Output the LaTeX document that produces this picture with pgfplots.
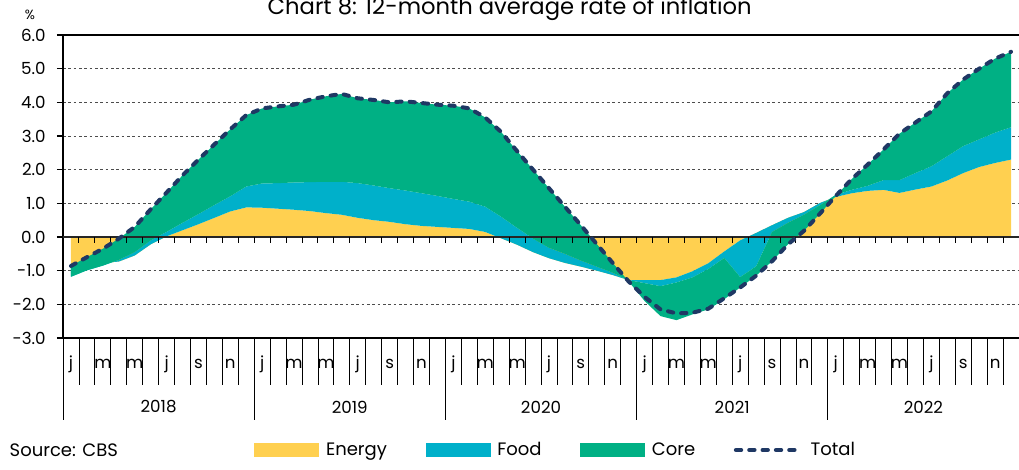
\documentclass[border=0pt]{standalone}
\usepackage{fontspec}
\setmainfont{Poppins}
\usepackage{pgfplots}
\pgfplotsset{compat=1.18}
\usepackage{pgfplotstable}
\definecolor{cEn}{RGB}{255,208,80}
\definecolor{cFo}{RGB}{0,176,202}
\definecolor{cCo}{RGB}{0,176,132}
\definecolor{cTo}{RGB}{31,56,100}
\newcommand\tf{\fontsize{12.5}{14}\selectfont}
\newcommand\lf{\fontsize{13.5}{15}\selectfont}
\pgfplotstableread{
x E F C T
0.5 -0.82 -0.36 0.32 -0.86
1.5 -0.80 -0.19 0.39 -0.60
2.5 -0.77 -0.08 0.50 -0.35
3.5 -0.73 0.05 0.63 -0.05
4.5 -0.55 0.10 0.75 0.30
5.5 -0.22 0.12 0.92 0.82
6.5 0.02 0.13 1.17 1.32
7.5 0.20 0.22 1.41 1.83
8.5 0.38 0.30 1.62 2.30
9.5 0.57 0.38 1.80 2.75
10.5 0.76 0.45 1.99 3.20
11.5 0.88 0.62 2.12 3.62
12.5 0.87 0.72 2.23 3.82
13.5 0.84 0.76 2.28 3.88
14.5 0.81 0.81 2.31 3.93
15.5 0.77 0.86 2.45 4.08
16.5 0.71 0.93 2.54 4.18
17.5 0.66 0.98 2.61 4.25
18.5 0.57 1.03 2.52 4.12
19.5 0.50 1.03 2.54 4.07
20.5 0.45 1.00 2.55 4.00
21.5 0.38 1.00 2.65 4.03
22.5 0.33 0.97 2.68 3.98
23.5 0.30 0.92 2.71 3.93
24.5 0.27 0.86 2.77 3.90
25.5 0.24 0.81 2.77 3.82
26.5 0.15 0.75 2.65 3.55
27.5 -0.04 0.64 2.52 3.12
28.5 -0.23 0.50 2.28 2.55
29.5 -0.45 0.40 2.05 2.00
30.5 -0.63 0.31 1.77 1.45
31.5 -0.77 0.27 1.40 0.90
32.5 -0.88 0.18 1.05 0.35
33.5 -1.00 0.12 0.67 -0.21
34.5 -1.13 0.07 0.29 -0.77
35.5 -1.28 0.00 -0.04 -1.32
36.5 -1.28 -0.09 -0.53 -1.78
37.5 -1.28 -0.18 -0.89 -2.15
38.5 -1.20 -0.15 -1.12 -2.27
39.5 -1.02 -0.18 -1.10 -2.25
40.5 -0.78 -0.17 -1.20 -2.13
41.5 -0.43 -0.19 -1.23 -1.82
42.5 -0.10 -1.09 -0.31 -1.50
43.5 0.12 -0.99 -0.28 -1.15
44.5 0.35 -0.20 -0.87 -0.72
45.5 0.57 -0.15 -0.64 -0.22
46.5 0.74 -0.08 -0.48 0.18
47.5 1.01 -0.07 -0.25 0.69
48.5 1.19 0.06 -0.03 1.22
49.5 1.30 0.10 0.32 1.72
50.5 1.37 0.15 0.63 2.15
51.5 1.40 0.29 0.91 2.60
52.5 1.31 0.38 1.38 3.07
53.5 1.41 0.49 1.50 3.40
54.5 1.50 0.60 1.63 3.73
55.5 1.68 0.72 1.87 4.27
56.5 1.90 0.80 1.98 4.68
57.5 2.08 0.82 2.10 5.00
58.5 2.20 0.90 2.20 5.30
59.5 2.30 0.96 2.24 5.50
}\datatable

\begin{document}
\begin{tikzpicture}
\begin{axis}[name=main, at={(0,0)}, anchor=south west,
  scale only axis, width=717pt, height=227.25pt,
  xmin=0, xmax=60, ymin=-3, ymax=6,
  stack plots=y, reverse stacked plots=false,
  axis x line*=bottom, axis y line*=left,
  axis line style={black, line width=1.4pt},
  tick align=outside,
  major tick length=4.5pt,
  xtick={0,...,60},
  x tick label as interval,
  xticklabels={j,,m,,m,,j,,s,,n,,j,,m,,m,,j,,s,,n,,j,,m,,m,,j,,s,,n,,j,,m,,m,,j,,s,,n,,j,,m,,m,,j,,s,,n,},
  xtick style={draw=none},
  xticklabel style={font=\tf, anchor=center, yshift=-15pt},
  ytick={-3,...,6},
  ytick style={black, line width=0.8pt},
  yticklabel style={font=\tf, xshift=-5pt, /pgf/number format/fixed, /pgf/number format/fixed zerofill, /pgf/number format/precision=1},
  /pgf/number format/assume math mode=true,
  ymajorgrids,
  grid style={gray!60!black, line width=0.6pt, dash pattern=on 2pt off 2pt},
  clip=false,
  legend style={at={(0.5157,-0.3696)}, anchor=center, draw=none, fill=none, font=\lf,
    legend columns=4, /tikz/every odd column/.append style={column sep=3pt},
    /tikz/every even column/.append style={column sep=27pt}},
]
\addplot[fill=cEn, draw=none, legend image code/.code={\fill[cEn] (0pt,-5.25pt) rectangle (48.75pt,5.25pt);}] table[x=x,y=E]{\datatable} \closedcycle;
\addlegendentry{Energy}
\addplot[fill=cFo, draw=none, legend image code/.code={\fill[cFo] (0pt,-5.25pt) rectangle (48.75pt,5.25pt);}] table[x=x,y=F]{\datatable} \closedcycle;
\addlegendentry{Food}
\addplot[fill=cCo, draw=none, legend image code/.code={\fill[cCo] (0pt,-5.25pt) rectangle (48.75pt,5.25pt);}] table[x=x,y=C]{\datatable} \closedcycle;
\addlegendentry{Core}
\addlegendimage{legend image code/.code={\draw[cTo, line width=3pt, dash pattern=on 4pt off 6pt, line cap=round] (1.5pt,0pt) -- (51pt,0pt);}}
\addlegendentry{Total}
\draw[black!85, line width=1.1pt] (axis cs:0,0) -- (axis cs:60,0);
\pgfplotsinvokeforeach{1,...,59}{\draw[black, line width=0.7pt] (axis cs:#1,0) -- ([yshift=-4.5pt]axis cs:#1,0);}
\pgfplotsinvokeforeach{1,...,59}{\draw[black, line width=0.6pt] (axis cs:#1,-3) -- ([yshift=-35pt]axis cs:#1,-3);}
\pgfplotsinvokeforeach{0,12,24,36,48}{\draw[black, line width=0.6pt] (axis cs:#1,-3) -- ([yshift=-61.5pt]axis cs:#1,-3);}
\draw[black, line width=1.2pt] (rel axis cs:0,1) -- (rel axis cs:1,1);
\node[font=\tf] at ([yshift=-51.75pt]axis cs:6,-3) {2018};
\node[font=\tf] at ([yshift=-51.75pt]axis cs:18,-3) {2019};
\node[font=\tf] at ([yshift=-51.75pt]axis cs:30,-3) {2020};
\node[font=\tf] at ([yshift=-51.75pt]axis cs:42,-3) {2021};
\node[font=\tf] at ([yshift=-51.75pt]axis cs:54,-3) {2022};
\end{axis}
\begin{axis}[at={(main.south west)}, anchor=south west,
  scale only axis, width=717pt, height=227.25pt,
  xmin=0, xmax=60, ymin=-3, ymax=6, hide axis]
\addplot[color=cTo, line width=3pt, dash pattern=on 4pt off 6pt, line cap=round, no marks] table[x=x,y=T]{\datatable};
\end{axis}
\node[anchor=west, font=\lf] at ([shift={(-43.5pt,-84pt)}]main.south west) {Source: CBS};
\node[font=\fontsize{10}{12}\selectfont] at ([shift={(-24.75pt,242pt)}]main.south west) {\%};
\node[anchor=base, font=\fontsize{17}{20}\selectfont] at ([shift={(335pt,242.25pt)}]main.south west) {Chart 8: 12-month average rate of inflation};
\pgfresetboundingbox
\path[use as bounding box] ([shift={(-47.25pt,-99pt)}]main.south west) rectangle ([shift={(717pt,253.5pt)}]main.south west);
\end{tikzpicture}
\end{document}
